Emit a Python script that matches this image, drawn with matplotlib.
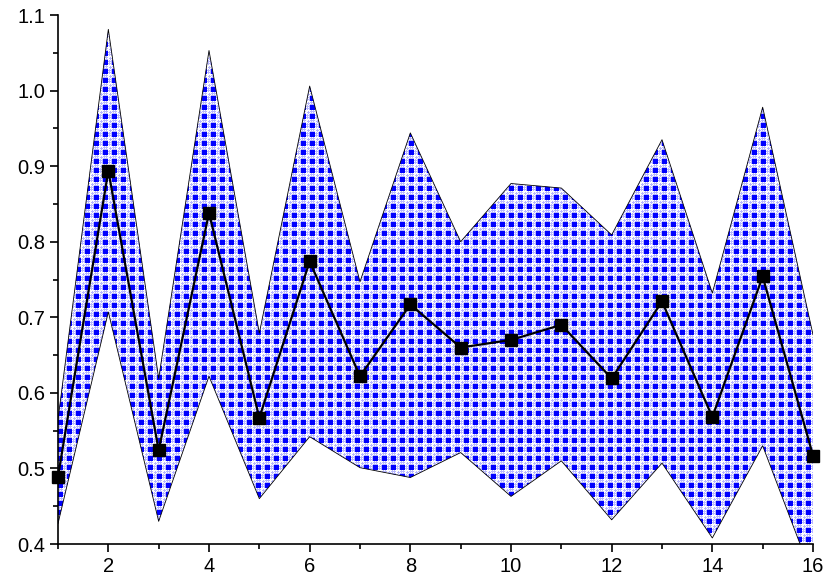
import matplotlib
matplotlib.use('Agg')
import matplotlib.pyplot as plt
import numpy as np
from matplotlib.patches import PathPatch

# data
x = np.arange(1, 17)
mean = [0.489, 0.894, 0.524, 0.838, 0.567, 0.774, 0.622, 0.717,
        0.660, 0.670, 0.690, 0.619, 0.721, 0.568, 0.754, 0.517]
upper = [0.565, 1.081, 0.619, 1.053, 0.679, 1.006, 0.747, 0.944,
         0.800, 0.877, 0.871, 0.809, 0.935, 0.732, 0.978, 0.677]
lower = [0.427, 0.707, 0.430, 0.622, 0.460, 0.542, 0.501, 0.488,
         0.521, 0.463, 0.510, 0.432, 0.507, 0.408, 0.530, 0.355]

plt.rcParams['font.family'] = ['Liberation Sans', 'DejaVu Sans']

fig = plt.figure(figsize=(8.3, 5.87), dpi=100)
ax = fig.add_axes([58/830, 1-544/587, 755/830, 529/587])

# checkered blue texture for the band: blue squares with light '#' marks between
W, H = 755, 529
tile = np.ones((9, 9, 3))
light = (0.72, 0.72, 1.0)
tile[0:5, 0:5] = (0, 0, 1)
tile[0:5, 6] = light
tile[0:5, 8] = light
tile[1, 5:9] = light
tile[3, 5:9] = light
tile[6, 0:5] = light
tile[8, 0:5] = light
tile[5:9, 1] = light
tile[5:9, 3] = light
tile[7, 6:9] = light
tile[6:9, 7] = light
tex = np.tile(tile, (H // 9 + 1, W // 9 + 1, 1))[:H, :W]

band = ax.fill_between(x, lower, upper, facecolor='none', edgecolor='none')
clip = PathPatch(band.get_paths()[0], transform=ax.transData,
                 facecolor='none', edgecolor='none')
ax.add_patch(clip)
im = ax.imshow(tex, extent=[0, 1, 0, 1], transform=ax.transAxes,
               aspect='auto', interpolation='nearest', zorder=1)
im.set_clip_path(clip)

# band outlines
ax.plot(x, upper, color='black', lw=0.6, zorder=2)
ax.plot(x, lower, color='black', lw=0.6, zorder=2)

# mean line
ax.plot(x, mean, color='black', lw=1.6, marker='s', ms=8,
        markerfacecolor='black', zorder=3, clip_on=False)

ax.set_xlim(1, 16)
ax.set_ylim(0.4, 1.1)
ax.set_xticks(np.arange(2, 17, 2))
ax.set_xticks(np.arange(1, 17, 1), minor=True)
ax.set_yticks(np.arange(0.4, 1.11, 0.1))
ax.set_yticks(np.arange(0.4, 1.11, 0.05), minor=True)
ax.set_yticklabels(['0.4', '0.5', '0.6', '0.7', '0.8', '0.9', '1.0', '1.1'])

for s in ['top', 'right']:
    ax.spines[s].set_visible(False)
for s in ['left', 'bottom']:
    ax.spines[s].set_linewidth(1.2)
ax.tick_params(which='major', direction='out', length=6, width=1.2,
               labelsize=14.5, pad=3)
ax.tick_params(which='minor', direction='out', length=3.5, width=1.2)

fig.savefig('out.png', dpi=100)
